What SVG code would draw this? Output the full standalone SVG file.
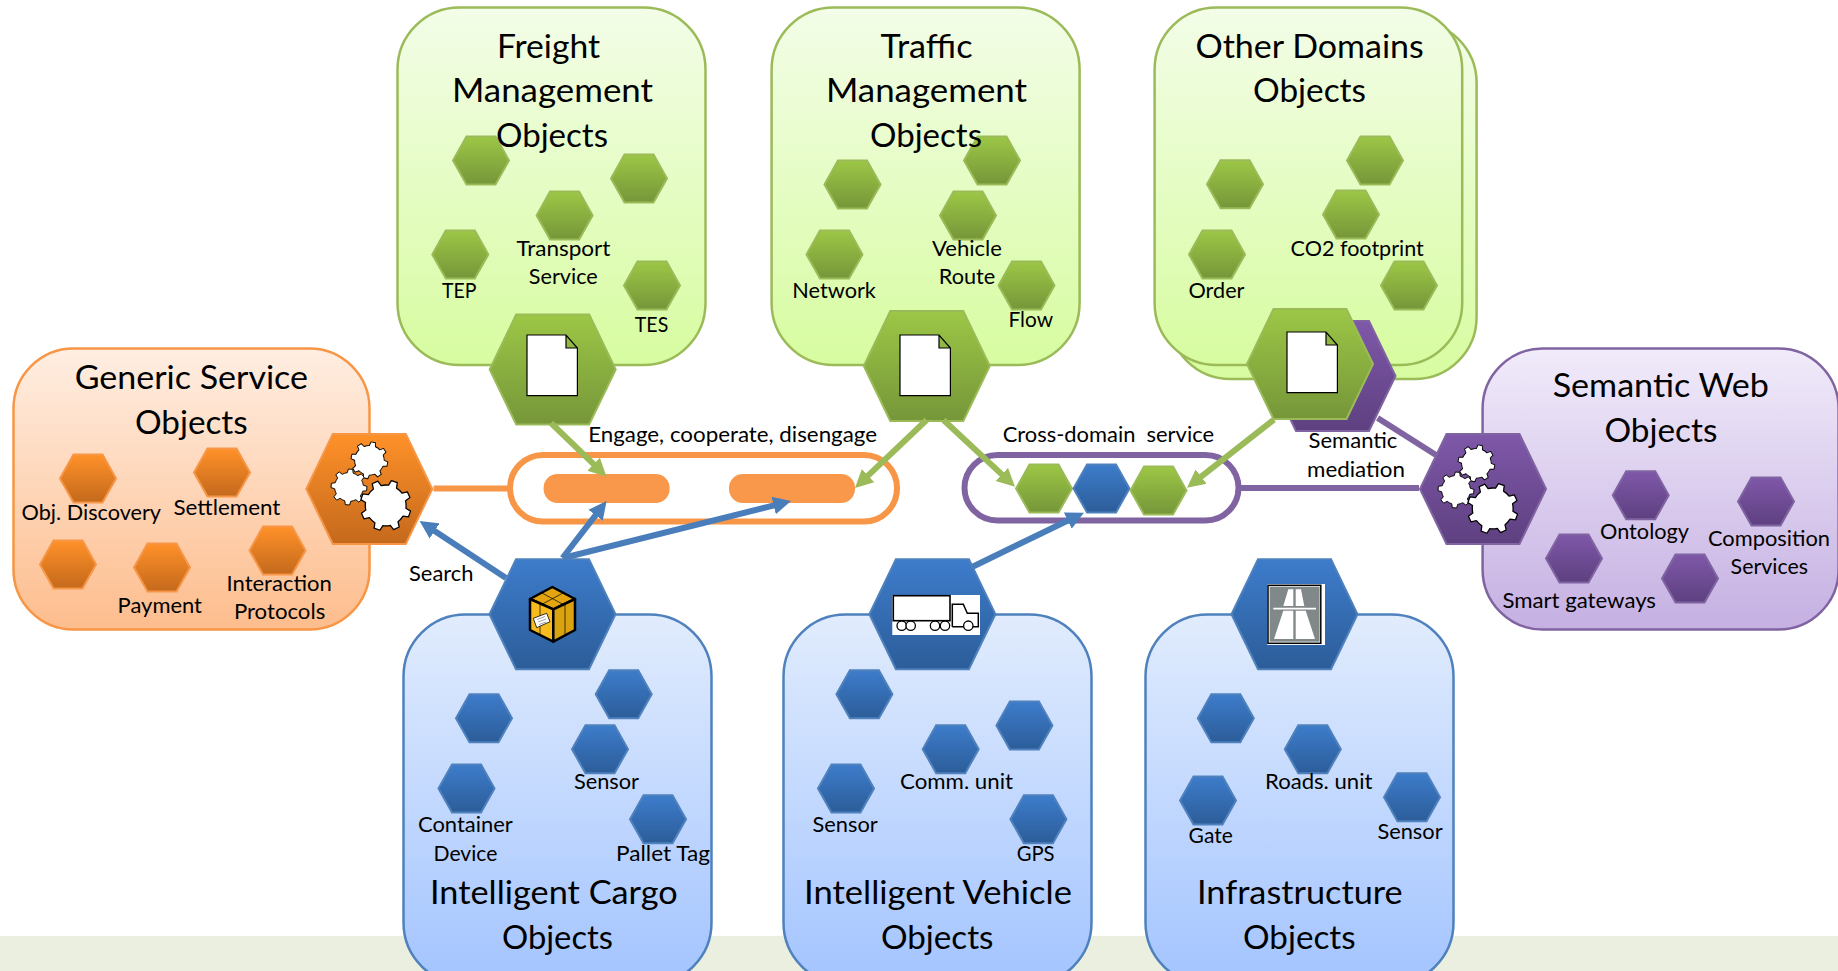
<svg xmlns="http://www.w3.org/2000/svg" width="1838" height="971" viewBox="0 0 1838 971">
<style>
text{font-family:"Lato","Carlito","Liberation Sans",sans-serif;fill:#000}
.t{font-size:33.5px}
.l{font-size:21px}
.bg{fill:url(#bxG);stroke:#9bbb59;stroke-width:2.5}
.bo{fill:url(#bxO);stroke:#f79646;stroke-width:2.5}
.bp{fill:url(#bxP);stroke:#8064a2;stroke-width:2.5}
.bb{fill:url(#bxB);stroke:#4f81bd;stroke-width:2.5}
.hg{fill:url(#hxG);stroke:#9bbb59;stroke-width:2}
.ho{fill:url(#hxO);stroke:#f79646;stroke-width:2}
.hp{fill:url(#hxP);stroke:#8064a2;stroke-width:2}
.hb{fill:url(#hxB);stroke:#4f81bd;stroke-width:2}
.doc{fill:#fff;stroke:#000;stroke-width:1.2}
.gear{fill:#fff;stroke:#000;stroke-width:.05;stroke-linejoin:round}
.cg{stroke:#9bbb59;stroke-width:6;fill:none}
.cb{stroke:#4a7ebb;stroke-width:6;fill:none}
.ink{fill:none;stroke:#000}
</style>
<defs>
<linearGradient id="bxG" x1="0" y1="0" x2="0" y2="1"><stop offset="0" stop-color="#f3fde8"/><stop offset="1" stop-color="#d7fca0"/></linearGradient>
<linearGradient id="bxO" x1="0" y1="0" x2="0" y2="1"><stop offset="0" stop-color="#ffeee2"/><stop offset="1" stop-color="#fdbd8d"/></linearGradient>
<linearGradient id="bxP" x1="0" y1="0" x2="0" y2="1"><stop offset="0" stop-color="#f1ebfa"/><stop offset="1" stop-color="#c5b0e2"/></linearGradient>
<linearGradient id="bxB" x1="0" y1="0" x2="0" y2="1"><stop offset="0" stop-color="#e1ecfd"/><stop offset="1" stop-color="#a3c4ff"/></linearGradient>
<linearGradient id="hxG" x1="0" y1="0" x2="0" y2="1"><stop offset="0" stop-color="#9cc746"/><stop offset="1" stop-color="#769639"/></linearGradient>
<linearGradient id="hxO" x1="0" y1="0" x2="0" y2="1"><stop offset="0" stop-color="#ff9129"/><stop offset="1" stop-color="#c4691c"/></linearGradient>
<linearGradient id="hxP" x1="0" y1="0" x2="0" y2="1"><stop offset="0" stop-color="#7f58a9"/><stop offset="1" stop-color="#5e4080"/></linearGradient>
<linearGradient id="hxB" x1="0" y1="0" x2="0" y2="1"><stop offset="0" stop-color="#3d7ccb"/><stop offset="1" stop-color="#2c5d99"/></linearGradient>
<polygon id="hs" points="-28,0.5 -14.5,-23.5 14.5,-23.5 28,0.5 14.5,24.5 -14.5,24.5"/>
<polygon id="hl" points="-63,0 -36.5,-55 36.5,-55 63,0 36.5,55 -36.5,55"/>
<path id="doc" d="M0,0H39L50.4,13V60.7H0Z M39,0V13H50.4"/>
<path id="gr" d="M.783,-.166L.993,-.122L.993,.122L.783,.166A.8,.8 0 0 1 .671,.436L.788,.616L.616,.788L.436,.671A.8,.8 0 0 1 .166,.783L.122,.993L-.122,.993L-.166,.783A.8,.8 0 0 1 -.436,.671L-.616,.788L-.788,.616L-.671,.436A.8,.8 0 0 1 -.783,.166L-.993,.122L-.993,-.122L-.783,-.166A.8,.8 0 0 1 -.671,-.436L-.788,-.616L-.616,-.788L-.436,-.671A.8,.8 0 0 1 -.166,-.783L-.122,-.993L.122,-.993L.166,-.783A.8,.8 0 0 1 .436,-.671L.616,-.788L.788,-.616L.671,-.436A.8,.8 0 0 1 .783,-.166Z"/>
<marker id="ag" viewBox="0 0 10 10" refX="2" refY="5" markerWidth="3" markerHeight="3.2" orient="auto"><path d="M0,0L10,5L0,10Z" fill="#9bbb59"/></marker>
<marker id="ab" viewBox="0 0 10 10" refX="2" refY="5" markerWidth="3" markerHeight="3.2" orient="auto"><path d="M0,0L10,5L0,10Z" fill="#4a7ebb"/></marker>
</defs>
<rect id="footer-band" x="0" y="936" width="1838" height="35" fill="#ebefe0"/>

<g id="freight">
<rect class="bg" x="397.5" y="7.5" width="308" height="357.5" rx="62"/>
<use href="#hs" class="hg" x="481" y="160"/><use href="#hs" class="hg" x="639" y="178"/><use href="#hs" class="hg" x="564.6" y="215"/><use href="#hs" class="hg" x="460.3" y="254"/><use href="#hs" class="hg" x="652" y="285"/>
<text class="t" x="497" y="57.7" textLength="103" lengthAdjust="spacingAndGlyphs">Freight</text>
<text class="t" x="452" y="101.7" textLength="201" lengthAdjust="spacingAndGlyphs">Management</text>
<text class="t" x="496" y="146.7" textLength="112" lengthAdjust="spacingAndGlyphs">Objects</text>
<text class="l" x="516.4" y="256" textLength="94" lengthAdjust="spacingAndGlyphs">Transport</text>
<text class="l" x="528.8" y="284" textLength="69" lengthAdjust="spacingAndGlyphs">Service</text>
<text class="l" x="442" y="297.7" textLength="34.4" lengthAdjust="spacingAndGlyphs">TEP</text>
<text class="l" x="634.8" y="331.7" textLength="33.5" lengthAdjust="spacingAndGlyphs">TES</text>
<use href="#hl" class="hg" x="552.7" y="369.5"/>
<use href="#doc" class="doc" x="527" y="335"/>
</g>

<g id="traffic">
<rect class="bg" x="771.6" y="7.5" width="308" height="357.5" rx="62"/>
<use href="#hs" class="hg" x="852.5" y="184"/><use href="#hs" class="hg" x="992" y="160"/><use href="#hs" class="hg" x="968" y="215"/><use href="#hs" class="hg" x="834.5" y="254"/><use href="#hs" class="hg" x="1026.5" y="285"/>
<text class="t" x="880.5" y="57.7" textLength="92" lengthAdjust="spacingAndGlyphs">Traffic</text>
<text class="t" x="826" y="101.7" textLength="201" lengthAdjust="spacingAndGlyphs">Management</text>
<text class="t" x="870" y="146.7" textLength="112" lengthAdjust="spacingAndGlyphs">Objects</text>
<text class="l" x="932" y="256" textLength="70" lengthAdjust="spacingAndGlyphs">Vehicle</text>
<text class="l" x="938.8" y="284" textLength="56.4" lengthAdjust="spacingAndGlyphs">Route</text>
<text class="l" x="792.3" y="297.7" textLength="83.6" lengthAdjust="spacingAndGlyphs">Network</text>
<text class="l" x="1008.5" y="327" textLength="44.5" lengthAdjust="spacingAndGlyphs">Flow</text>
<use href="#hl" class="hg" x="926.8" y="366"/>
<use href="#doc" class="doc" x="900" y="335"/>
</g>

<g id="other-domains">
<rect class="bg" x="1168.6" y="21" width="308" height="358" rx="62"/>
<rect class="bg" x="1154.6" y="7.5" width="307.6" height="357.5" rx="62"/>
<use href="#hs" class="hg" x="1235" y="183.7"/><use href="#hs" class="hg" x="1375" y="160"/><use href="#hs" class="hg" x="1351" y="214"/><use href="#hs" class="hg" x="1217" y="254"/><use href="#hs" class="hg" x="1409" y="285"/>
<text class="t" x="1195.5" y="58" textLength="228.3" lengthAdjust="spacingAndGlyphs">Other Domains</text>
<text class="t" x="1253" y="102" textLength="113" lengthAdjust="spacingAndGlyphs">Objects</text>
<text class="l" x="1290.6" y="256.3" textLength="133.2" lengthAdjust="spacingAndGlyphs">CO2 footprint</text>
<text class="l" x="1188.5" y="298" textLength="56" lengthAdjust="spacingAndGlyphs">Order</text>
</g>
<g id="semantic-mediator">
<line x1="1377.6" y1="418" x2="1436" y2="455" stroke="#8064a2" stroke-width="6"/>
<use href="#hl" class="hp" x="1332.5" y="376"/>
</g>
<g id="other-hub">
<use href="#hl" class="hg" x="1310" y="364"/>
<use href="#doc" class="doc" x="1287" y="332"/>
</g>

<g id="generic-service">
<rect class="bo" x="13.5" y="348.5" width="356" height="281" rx="60"/>
<use href="#hs" class="ho" x="88" y="478"/><use href="#hs" class="ho" x="222" y="472"/><use href="#hs" class="ho" x="68" y="564"/><use href="#hs" class="ho" x="162" y="567"/><use href="#hs" class="ho" x="277.5" y="550"/>
<text class="t" x="74.7" y="389" textLength="233.3" lengthAdjust="spacingAndGlyphs">Generic Service</text>
<text class="t" x="135" y="434" textLength="112.7" lengthAdjust="spacingAndGlyphs">Objects</text>
<text class="l" x="21.6" y="520" textLength="139.4" lengthAdjust="spacingAndGlyphs">Obj. Discovery</text>
<text class="l" x="173.5" y="515" textLength="106.9" lengthAdjust="spacingAndGlyphs">Settlement</text>
<text class="l" x="117.6" y="612.7" textLength="84.4" lengthAdjust="spacingAndGlyphs">Payment</text>
<text class="l" x="226.5" y="591" textLength="105.3" lengthAdjust="spacingAndGlyphs">Interaction</text>
<text class="l" x="233.9" y="619.3" textLength="91.4" lengthAdjust="spacingAndGlyphs">Protocols</text>
<use href="#hl" class="ho" x="369.3" y="489"/>
<use href="#gr" class="gear" transform="translate(369.4 460.3) rotate(12) scale(18.5)"/>
<use href="#gr" class="gear" transform="translate(349 487) rotate(5) scale(18)"/>
<use href="#gr" class="gear" transform="translate(385.7 505.4) rotate(20) scale(25.5)"/>
</g>

<g id="semantic-web">
<rect class="bp" x="1482.6" y="348.5" width="356" height="281" rx="60"/>
<use href="#hs" class="hp" x="1640.7" y="494.7"/><use href="#hs" class="hp" x="1766" y="501"/><use href="#hs" class="hp" x="1574" y="558"/><use href="#hs" class="hp" x="1690" y="578"/>
<text class="t" x="1552.7" y="396.7" textLength="216.3" lengthAdjust="spacingAndGlyphs">Semantic Web</text>
<text class="t" x="1604.5" y="441.6" textLength="112.9" lengthAdjust="spacingAndGlyphs">Objects</text>
<text class="l" x="1600" y="538.8" textLength="89" lengthAdjust="spacingAndGlyphs">Ontology</text>
<text class="l" x="1708" y="545.7" textLength="122" lengthAdjust="spacingAndGlyphs">Composition</text>
<text class="l" x="1730.6" y="574" textLength="77.4" lengthAdjust="spacingAndGlyphs">Services</text>
<text class="l" x="1502.4" y="608" textLength="153.6" lengthAdjust="spacingAndGlyphs">Smart gateways</text>
<use href="#hl" class="hp" x="1483" y="489"/>
<use href="#gr" class="gear" transform="translate(1476.4 463.3) rotate(12) scale(18.5)"/>
<use href="#gr" class="gear" transform="translate(1456 490) rotate(5) scale(18)"/>
<use href="#gr" class="gear" transform="translate(1492.7 508.4) rotate(20) scale(25.5)"/>
</g>

<g id="cargo">
<rect class="bb" x="403.5" y="614.5" width="308" height="370" rx="62"/>
<use href="#hs" class="hb" x="484" y="717.7"/><use href="#hs" class="hb" x="623.7" y="693.7"/><use href="#hs" class="hb" x="600" y="748.7"/><use href="#hs" class="hb" x="466.5" y="788"/><use href="#hs" class="hb" x="658" y="818.7"/>
<text class="t" x="430" y="904" textLength="247.7" lengthAdjust="spacingAndGlyphs">Intelligent Cargo</text>
<text class="t" x="502" y="949" textLength="111" lengthAdjust="spacingAndGlyphs">Objects</text>
<text class="l" x="573.9" y="789.3" textLength="65.1" lengthAdjust="spacingAndGlyphs">Sensor</text>
<text class="l" x="418" y="831.7" textLength="94.8" lengthAdjust="spacingAndGlyphs">Container</text>
<text class="l" x="433.5" y="860.7" textLength="63.9" lengthAdjust="spacingAndGlyphs">Device</text>
<text class="l" x="616" y="860.7" textLength="94" lengthAdjust="spacingAndGlyphs">Pallet Tag</text>
<use href="#hl" class="hb" x="552.5" y="614.3"/>
<g stroke="#000" stroke-width="2.5" stroke-linejoin="round">
<path d="M552.3,587L575,599L553.3,609.3L530,599Z" fill="#e3a50f"/>
<path d="M530,599L553.3,609.3V641.7L530,630Z" fill="#f8bb1d"/>
<path d="M553.3,609.3L575,599V630L553.3,641.7Z" fill="#dba210"/>
</g>
<path d="M540.7,592.3L564.3,605M564.3,592.3L540.7,605M540,604V636M565,604V635" fill="none" stroke="#000" stroke-width="1" opacity=".7"/>
<path d="M533.3,618.3L546.7,613.3L550,621.7L536.7,627.7Z" fill="#fff" stroke="#000" stroke-width=".8"/>
<path d="M537,619.5L545,616.5M538,622L546,619M539,624.5L546,622" fill="none" stroke="#777" stroke-width=".7"/>
</g>

<g id="vehicle">
<rect class="bb" x="783.5" y="614.5" width="308" height="370" rx="62"/>
<use href="#hs" class="hb" x="864.4" y="693.7"/><use href="#hs" class="hb" x="1024.4" y="725"/><use href="#hs" class="hb" x="950.7" y="748.7"/><use href="#hs" class="hb" x="846" y="788"/><use href="#hs" class="hb" x="1038.4" y="818.7"/>
<text class="t" x="804" y="904" textLength="268" lengthAdjust="spacingAndGlyphs">Intelligent Vehicle</text>
<text class="t" x="881" y="949" textLength="112.5" lengthAdjust="spacingAndGlyphs">Objects</text>
<text class="l" x="812.5" y="831.7" textLength="65.2" lengthAdjust="spacingAndGlyphs">Sensor</text>
<text class="l" x="900" y="789.3" textLength="113" lengthAdjust="spacingAndGlyphs">Comm. unit</text>
<text class="l" x="1016.7" y="860.7" textLength="37.9" lengthAdjust="spacingAndGlyphs">GPS</text>
<use href="#hl" class="hb" x="932.4" y="614.3"/>
<rect x="892.3" y="595" width="87.7" height="40" fill="#fff"/>
<rect class="ink" x="893.3" y="595.7" width="56.7" height="25" stroke-width="1.6"/>
<path class="ink" d="M952.3,626.7V604.3H963.3L967.3,613.3H978.3V626.7H952.3" stroke-width="1.5"/>
<g fill="#fff" stroke="#000" stroke-width="1.3"><circle cx="901.7" cy="625.7" r="4.7"/><circle cx="910.7" cy="625.7" r="4.7"/><circle cx="935" cy="625.7" r="4.7"/><circle cx="945" cy="625.7" r="4.7"/><circle cx="968.3" cy="625.7" r="4.7"/></g>
</g>

<g id="infrastructure">
<rect class="bb" x="1145.5" y="614.5" width="308" height="370" rx="62"/>
<use href="#hs" class="hb" x="1225.8" y="717.7"/><use href="#hs" class="hb" x="1312.8" y="748.7"/><use href="#hs" class="hb" x="1208" y="800"/><use href="#hs" class="hb" x="1412" y="796.7"/>
<text class="t" x="1197" y="904" textLength="205.6" lengthAdjust="spacingAndGlyphs">Infrastructure</text>
<text class="t" x="1243" y="949" textLength="112.6" lengthAdjust="spacingAndGlyphs">Objects</text>
<text class="l" x="1265" y="789.3" textLength="107.4" lengthAdjust="spacingAndGlyphs">Roads. unit</text>
<text class="l" x="1188.6" y="843.3" textLength="44.2" lengthAdjust="spacingAndGlyphs">Gate</text>
<text class="l" x="1377.4" y="839" textLength="65.2" lengthAdjust="spacingAndGlyphs">Sensor</text>
<use href="#hl" class="hb" x="1294.5" y="614.3"/>
<rect x="1267.3" y="584" width="57.7" height="61" fill="#fff"/>
<rect x="1268" y="585.3" width="52.8" height="58" fill="none" stroke="#000" stroke-width="1.5"/>
<rect x="1269.6" y="586.7" width="50" height="55" fill="#808889"/>
<path d="M1288.3,589.3H1293.3V606H1283.3ZM1295.7,589.3H1301L1304.3,606H1295.7ZM1283.3,610.7H1293.3V639H1274ZM1295.7,610.7H1305.7L1315,639H1295.7ZM1273.3,607.7H1316V609.5H1273.3Z" fill="#fff"/>
</g>

<g id="engage-bus">
<rect x="510" y="455" width="387" height="66.5" rx="33" fill="#fff" stroke="#f79646" stroke-width="6"/>
<rect x="543.6" y="474" width="126" height="29" rx="14" fill="#f9984a"/>
<rect x="729" y="474" width="126" height="29" rx="14" fill="#f9984a"/>
<text class="l" x="588.2" y="441.7" textLength="288.8" lengthAdjust="spacingAndGlyphs">Engage, cooperate, disengage</text>
</g>

<g id="cross-domain-bus">
<rect x="964.5" y="455" width="274" height="65.5" rx="33" fill="#fff" stroke="#8064a2" stroke-width="6"/>
<use href="#hs" class="hg" x="1044" y="488"/>
<use href="#hs" class="hb" x="1101.5" y="488"/>
<use href="#hs" class="hg" x="1158.5" y="490"/>
<text class="l" x="1002.7" y="441.7" textLength="211.3" lengthAdjust="spacingAndGlyphs" xml:space="preserve">Cross-domain  service</text>
</g>

<g id="connectors">
<line x1="433.5" y1="488.5" x2="508" y2="488.5" stroke="#f79646" stroke-width="6"/>
<line x1="1241" y1="488" x2="1419" y2="488" stroke="#8064a2" stroke-width="6"/>
<line class="cg" x1="551" y1="423" x2="596.2" y2="466.7" marker-end="url(#ag)"/>
<line class="cg" x1="926.6" y1="420" x2="865.4" y2="478.1" marker-end="url(#ag)"/>
<line class="cg" x1="943.5" y1="420" x2="1004.5" y2="476.9" marker-end="url(#ag)"/>
<line class="cg" x1="1274" y1="419.6" x2="1198.3" y2="478.9" marker-end="url(#ag)"/>
<line class="cb" x1="506" y1="578" x2="431.6" y2="528.9" marker-end="url(#ab)"/>
<line class="cb" x1="562.5" y1="558" x2="597.8" y2="512.4" marker-end="url(#ab)"/>
<line class="cb" x1="563" y1="558" x2="777.1" y2="504.6" marker-end="url(#ab)"/>
<line class="cb" x1="972.6" y1="566.7" x2="1071" y2="519" marker-end="url(#ab)"/>
</g>

<g id="free-labels">
<text class="l" x="409" y="580.7" textLength="64.5" lengthAdjust="spacingAndGlyphs">Search</text>
<text class="l" x="1308.5" y="448" textLength="88.9" lengthAdjust="spacingAndGlyphs">Semantic</text>
<text class="l" x="1307" y="476.7" textLength="98" lengthAdjust="spacingAndGlyphs">mediation</text>
</g>
</svg>
